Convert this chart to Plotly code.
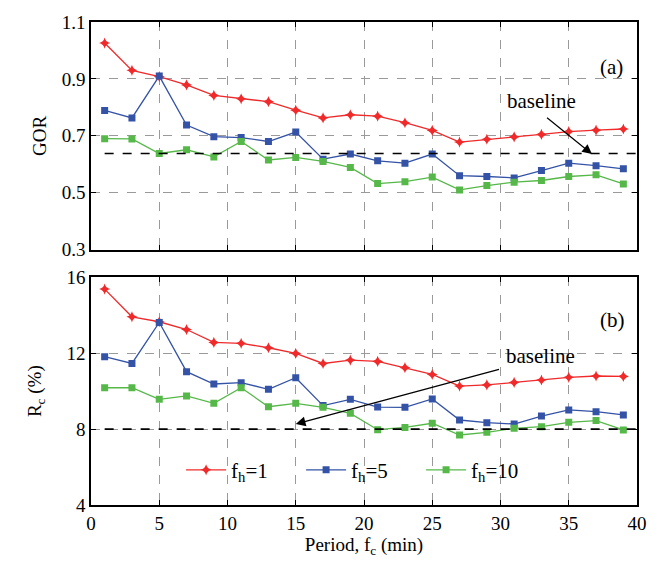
import plotly.graph_objects as go
from plotly.subplots import make_subplots

period = [1, 3, 5, 7, 9, 11, 13, 15, 17, 19, 21, 23, 25, 27, 29, 31, 33, 35, 37, 39]

gor_fh1 = [1.026, 0.930, 0.908, 0.879, 0.842, 0.830, 0.820, 0.790, 0.763, 0.774,
           0.769, 0.746, 0.719, 0.678, 0.688, 0.696, 0.705, 0.715, 0.720, 0.724]
gor_fh5 = [0.789, 0.763, 0.910, 0.738, 0.697, 0.694, 0.680, 0.713, 0.618, 0.636,
           0.612, 0.604, 0.636, 0.560, 0.557, 0.552, 0.578, 0.604, 0.595, 0.584]
gor_fh10 = [0.690, 0.689, 0.638, 0.651, 0.626, 0.680, 0.615, 0.624, 0.610, 0.589,
            0.532, 0.539, 0.555, 0.510, 0.525, 0.537, 0.543, 0.557, 0.563, 0.531]

rc_fh1 = [15.38, 13.92, 13.66, 13.25, 12.57, 12.52, 12.29, 11.99, 11.46, 11.64,
          11.57, 11.24, 10.88, 10.27, 10.33, 10.46, 10.59, 10.73, 10.80, 10.78]
rc_fh5 = [11.82, 11.46, 13.62, 11.03, 10.38, 10.45, 10.10, 10.71, 9.24, 9.57,
          9.16, 9.15, 9.59, 8.48, 8.34, 8.27, 8.69, 9.01, 8.92, 8.75]
rc_fh10 = [10.18, 10.18, 9.57, 9.75, 9.36, 10.18, 9.18, 9.36, 9.15, 8.83,
           7.97, 8.09, 8.31, 7.69, 7.83, 8.04, 8.13, 8.36, 8.45, 7.96]

gor_baseline = 0.638
rc_baseline = 8.0

series_names = ["f<sub>h</sub>=1", "f<sub>h</sub>=5", "f<sub>h</sub>=10"]
colors = ["#f02a2a", "#3453a6", "#55b848"]
symbols = ["star-diamond", "square", "square"]
sizes = [8, 7, 7]

FONT = "'Liberation Serif', 'Times New Roman', 'DejaVu Serif', serif"

fig = make_subplots(rows=2, cols=1, vertical_spacing=0.0574)

for i, (g, r) in enumerate([(gor_fh1, rc_fh1), (gor_fh5, rc_fh5), (gor_fh10, rc_fh10)]):
    fig.add_trace(go.Scatter(x=period, y=g, mode="lines+markers", name=series_names[i],
                             line=dict(color=colors[i], width=1.3),
                             marker=dict(symbol=symbols[i], size=sizes[i], color=colors[i]),
                             showlegend=False), row=1, col=1)
    fig.add_trace(go.Scatter(x=period, y=r, mode="lines+markers", name=series_names[i],
                             line=dict(color=colors[i], width=1.3),
                             marker=dict(symbol=symbols[i], size=sizes[i], color=colors[i]),
                             showlegend=True), row=2, col=1)

# baselines
fig.add_trace(go.Scatter(x=[1, 40], y=[gor_baseline, gor_baseline], mode="lines",
                         line=dict(color="black", width=1.6, dash="dash"), showlegend=False,
                         hoverinfo="skip"), row=1, col=1)
fig.add_trace(go.Scatter(x=[1, 40], y=[rc_baseline, rc_baseline], mode="lines",
                         line=dict(color="black", width=1.6, dash="dash"), showlegend=False,
                         hoverinfo="skip"), row=2, col=1)

TF = dict(family=FONT, size=19, color="black")
axis_common = dict(showline=True, linecolor="black", linewidth=1.5, mirror="ticks",
                   ticks="inside", ticklen=5, tickcolor="black",
                   showgrid=True, gridcolor="#9a9a9a", griddash="dash", gridwidth=1,
                   zeroline=False, tickfont=TF)

fig.update_xaxes(range=[0, 40], dtick=5, **axis_common)
fig.update_xaxes(showticklabels=False, row=1, col=1)
fig.update_xaxes(title=dict(text="Period, f<sub>c</sub> (min)", font=TF, standoff=2), row=2, col=1)
fig.update_yaxes(**axis_common)
fig.update_yaxes(range=[0.3, 1.1], tickvals=[0.3, 0.5, 0.7, 0.9, 1.1],
                 ticktext=["0.3", "0.5", "0.7", "0.9", "1.1"],
                 title=dict(text="GOR", font=TF, standoff=10),
                 row=1, col=1)
fig.update_yaxes(range=[4, 16], tickvals=[4, 8, 12, 16],
                 title=dict(text="R<sub>c</sub> (%)", font=TF, standoff=20),
                 row=2, col=1)

ann_font = dict(family=FONT, size=21, color="black")
fig.add_annotation(x=38.1, y=0.943, xref="x", yref="y", text="(a)", showarrow=False, font=ann_font)
fig.add_annotation(x=38.2, y=13.75, xref="x2", yref="y2", text="(b)", showarrow=False, font=ann_font)
fig.add_annotation(x=33.0, y=0.821, xref="x", yref="y", text="baseline", showarrow=False, font=ann_font)
fig.add_annotation(x=36.7, y=0.636, ax=33.3, ay=0.768, xref="x", yref="y", axref="x", ayref="y",
                   text="", showarrow=True, arrowhead=2, arrowsize=1.6, arrowwidth=1.2, arrowcolor="black")
fig.add_annotation(x=32.9, y=11.87, xref="x2", yref="y2", text="baseline", showarrow=False, font=ann_font)
fig.add_annotation(x=15.0, y=8.27, ax=30.0, ay=11.17, xref="x2", yref="y2", axref="x2", ayref="y2",
                   text="", showarrow=True, arrowhead=2, arrowsize=1.5, arrowwidth=1.3, arrowcolor="black")

fig.update_layout(
    width=661, height=573,
    margin=dict(l=91, r=24, t=17, b=68),
    plot_bgcolor="white", paper_bgcolor="white",
    font=dict(family=FONT, size=19, color="black"),
    legend=dict(orientation="h", x=0.165, y=0.072, xanchor="left", yanchor="middle",
                bgcolor="rgba(0,0,0,0)", font=dict(family=FONT, size=21, color="black"),
                entrywidth=65, entrywidthmode="pixels", itemwidth=40, tracegroupgap=0),
)

fig.write_html("out.html")
